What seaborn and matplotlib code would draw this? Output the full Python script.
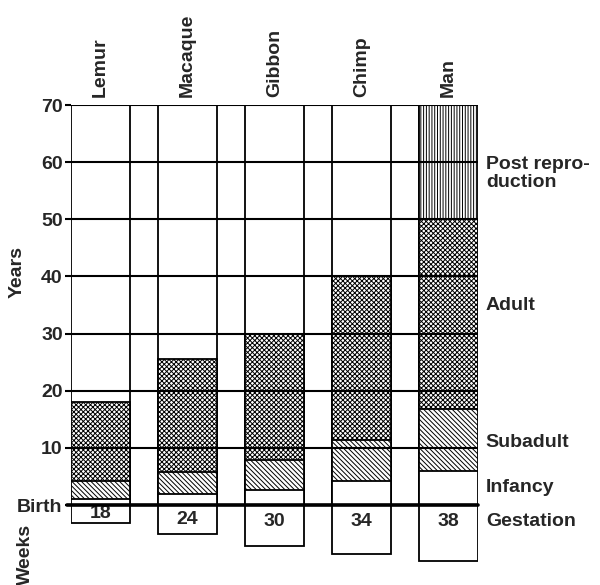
import numpy as np
import pandas as pd
import matplotlib
matplotlib.use("Agg")
import matplotlib.pyplot as plt
import seaborn as sns

# ---- data ----
species = ["Lemur", "Macaque", "Gibbon", "Chimp", "Man"]
infancy_end = [1.0, 1.9, 2.6, 4.3, 6.0]          # years after birth
subadult_end = [4.3, 5.8, 7.9, 11.4, 16.8]
adult_end = [18.0, 25.6, 30.0, 40.0, 50.0]
post_repro_end = [np.nan, np.nan, np.nan, np.nan, 70.0]
gestation_weeks = [18, 24, 30, 34, 38]
lifespan_frame = [70, 70, 70, 70, 70]

year_ticks = [0, 10, 20, 30, 40, 50, 60, 70]
year_tick_labels = ["Birth", "10", "20", "30", "40", "50", "60", "70"]
stage_names = ["Post repro-\nduction", "Adult", "Subadult", "Infancy", "Gestation"]


def gestation_scale(weeks):
    """Map gestation weeks onto the depth below the birth line (chart units)."""
    return -(np.asarray(weeks, dtype=float) - 9.0) * 0.34


sns.set_style("white")
plt.rcParams["font.family"] = ["Liberation Sans", "DejaVu Sans"]
plt.rcParams["font.weight"] = "bold"
plt.rcParams["hatch.linewidth"] = 0.7

fig = plt.figure(figsize=(6.0, 5.85), dpi=100)
ax = fig.add_axes([71 / 600, 1 - 568 / 585, 407 / 600, (568 - 105) / 585])

df = pd.DataFrame({
    "species": species,
    "frame": lifespan_frame,
    "post": post_repro_end,
    "adult": adult_end,
    "subadult": subadult_end,
    "infancy": infancy_end,
    "gestation": gestation_scale(gestation_weeks),
})

common = dict(x="species", order=species, width=0.68, saturation=1,
              errorbar=None, edgecolor="black", linewidth=1.3, ax=ax)

# background column frames 0..70
sns.barplot(data=df, y="frame", color="white", **common)
# post reproduction (vertical lines)
sns.barplot(data=df[df["post"].notna()], y="post", color="white", hatch="|" * 6, **common)
# adult (dense cross-hatch)
sns.barplot(data=df, y="adult", color="white", hatch="x" * 7, **common)
# subadult (diagonal)
sns.barplot(data=df, y="subadult", color="white", hatch="\\" * 7, **common)
# infancy (white)
sns.barplot(data=df, y="infancy", color="white", **common)
# gestation boxes below the birth line
sns.barplot(data=df, y="gestation", color="white", **common)

for i, (w, d) in enumerate(zip(gestation_weeks, df["gestation"])):
    ax.text(i, max(d / 2, -2.9), str(w), ha="center", va="center",
            fontsize=14, fontweight="bold")

ax.set_xlim(-0.34, 4.34)
ax.set_ylim(-11, 70)

# horizontal decade lines across the whole frame
ax.set_yticks(year_ticks)
ax.set_yticklabels(year_tick_labels)
ax.set_axisbelow(False)
ax.yaxis.grid(True, color="black", linewidth=1.5)
ax.axhline(0, color="black", linewidth=2.6, xmin=-0.01, xmax=1.0, clip_on=False, zorder=5)
ax.tick_params(axis="y", direction="out", length=4, width=1.5, color="black",
               labelsize=14, pad=2, left=True)

# species labels on top
ax.xaxis.tick_top()
ax.set_xticks(range(len(species)))
ax.set_xticklabels(species, rotation=90, fontsize=14, fontweight="bold")
ax.tick_params(axis="x", length=0, pad=6)
ax.set_xlabel("")
ax.set_ylabel("")
for s in ax.spines.values():
    s.set_visible(False)

# stage labels on the right
stage_y = [58, 35, 11, 3, -2.8]
for name, y in zip(stage_names, stage_y):
    ax.text(4.43, y, name, ha="left", va="center", fontsize=14,
            fontweight="bold", linespacing=1.1, clip_on=False)

fig.text(17 / 600, 1 - 272 / 585, "Years", rotation=90, ha="center", va="center",
         fontsize=14, fontweight="bold")
fig.text(25 / 600, 1 - 554 / 585, "Weeks", rotation=90, ha="center", va="center",
         fontsize=14, fontweight="bold")

fig.savefig("out.png", dpi=100)
